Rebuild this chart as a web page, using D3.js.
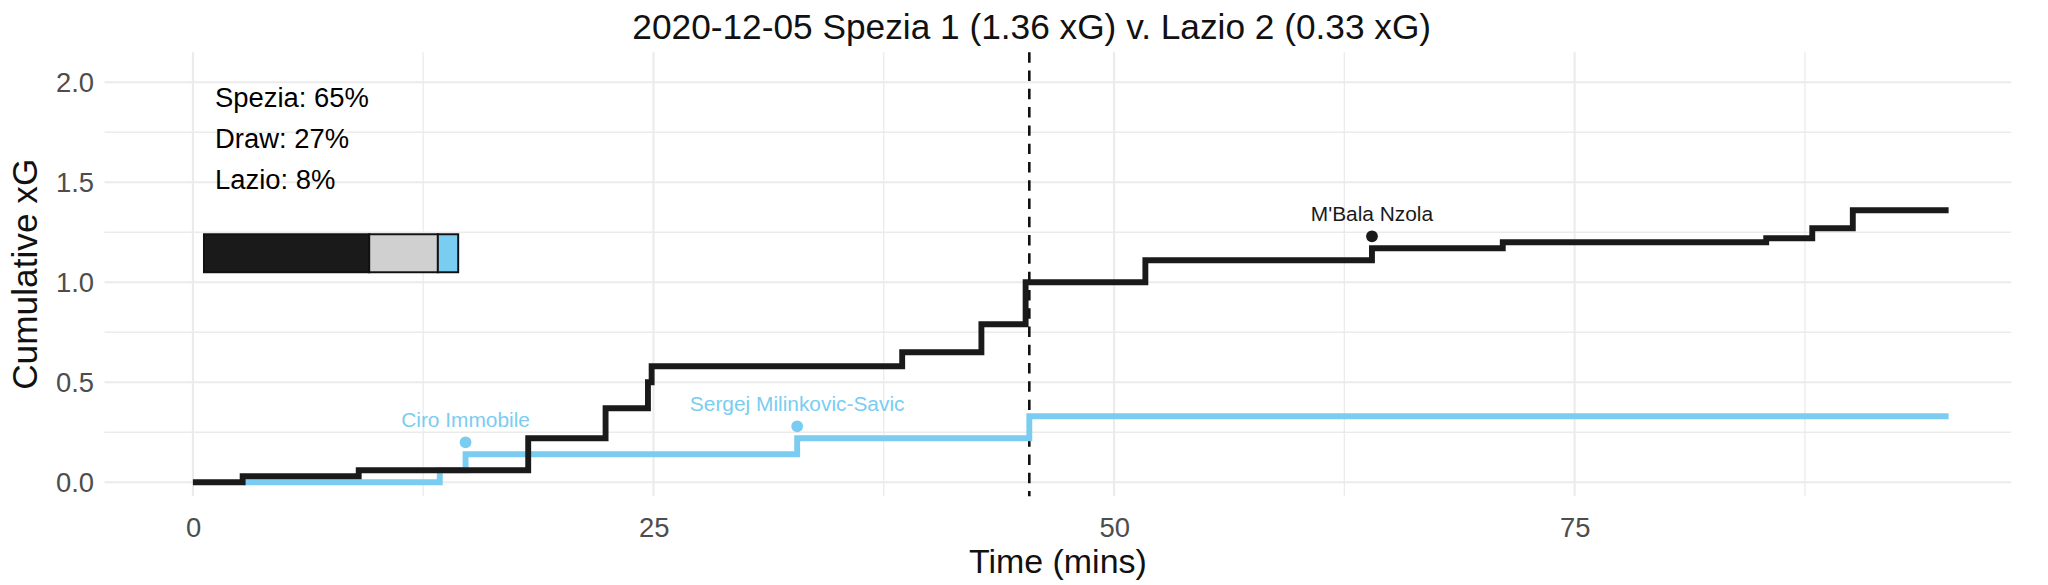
<!DOCTYPE html><html><head><meta charset="utf-8"><script src="https://cdn.jsdelivr.net/npm/d3@7"></script>
<style>body{margin:0;background:#fff}text{font-family:"Liberation Sans",Arial,sans-serif}</style></head><body><svg id="c" width="2048" height="585"></svg><script>
const spezia=[[0,0],[2.7,0.03],[9.0,0.06],[18.2,0.22],[22.4,0.37],[24.7,0.5],[24.9,0.58],[38.5,0.65],[42.8,0.79],[45.2,1.0],[51.7,1.11],[64.0,1.17],[71.1,1.20],[85.4,1.22],[87.9,1.27],[90.1,1.36],[95.3,1.36]];
const lazio=[[2.7,0],[13.4,0.06],[14.8,0.14],[32.8,0.22],[45.4,0.33],[95.3,0.33]];
const goals=[{t:14.8,y:0.2,name:"Ciro Immobile",team:"L"},{t:32.8,y:0.28,name:"Sergej Milinkovic-Savic",team:"L"},{t:64.0,y:1.23,name:"M'Bala Nzola",team:"S"}];
const probs=[{label:"Spezia",p:65},{label:"Draw",p:27},{label:"Lazio",p:8}];
const xTicks=[0,25,50,75], yTicks=[0,0.5,1,1.5,2];
const cS="#1a1a1a",cL="#7acdf0",cD="#d0d0d0";
const svg=d3.select("#c").append("g").attr("transform","scale(1.306)");
const x=d3.scaleLinear().domain([-4.8,98.7]).range([80,1540]);
const y=d3.scaleLinear().domain([-0.07,2.15]).range([380,40]);
const g=svg.append("g");
d3.range(-0,100,12.5).forEach(v=>{if(x(v)<=1540)g.append("line").attr("x1",x(v)).attr("x2",x(v)).attr("y1",40).attr("y2",380).attr("stroke","#ebebeb").attr("stroke-width",v%25?1:1.6);});
d3.range(0,2.01,0.25).forEach(v=>g.append("line").attr("x1",80).attr("x2",1540).attr("y1",y(v)).attr("y2",y(v)).attr("stroke","#ebebeb").attr("stroke-width",v%0.5?1:1.6));
const ax=svg.append("g").attr("transform","translate(0,380)").call(d3.axisBottom(x).tickValues(xTicks).tickSize(0).tickPadding(16));
const ay=svg.append("g").attr("transform","translate(80,0)").call(d3.axisLeft(y).tickValues(yTicks).tickFormat(d3.format(".1f")).tickSize(0).tickPadding(8));
[ax,ay].forEach(a=>{a.select(".domain").remove();a.selectAll("text").attr("font-size",21).attr("fill","#4d4d4d").attr("font-family","Liberation Sans, Arial");});
svg.append("line").attr("x1",x(45.4)).attr("x2",x(45.4)).attr("y1",40).attr("y2",380).attr("stroke","#111").attr("stroke-width",2).attr("stroke-dasharray","8,6");
const line=d3.line().x(d=>x(d[0])).y(d=>y(d[1])).curve(d3.curveStepAfter);
svg.append("path").attr("d",line(lazio)).attr("fill","none").attr("stroke",cL).attr("stroke-width",4.5);
svg.append("path").attr("d",line(spezia)).attr("fill","none").attr("stroke",cS).attr("stroke-width",4.5);
goals.forEach(d=>{const c=d.team=="S"?cS:cL;
svg.append("circle").attr("cx",x(d.t)).attr("cy",y(d.y)).attr("r",4.5).attr("fill",c);
svg.append("text").attr("x",x(d.t)).attr("y",y(d.y)-12).attr("text-anchor","middle").attr("font-size",16).attr("fill",c).text(d.name);});
probs.forEach((d,i)=>svg.append("text").attr("x",x(1.2)).attr("y",y(1.93-i*0.205)+8).attr("font-size",21).attr("fill","#000").text(`${d.label}: ${d.p}%`));
const bx=d3.scaleLinear().domain([0,100]).range([x(0.6),x(14.4)]);
let acc=0;[cS,cD,cL].forEach((c,i)=>{svg.append("rect").attr("x",bx(acc)).attr("width",bx(acc+probs[i].p)-bx(acc)).attr("y",y(1.24)).attr("height",y(1.05)-y(1.24)).attr("fill",c).attr("stroke","#111").attr("stroke-width",1.5);acc+=probs[i].p;});
svg.append("text").attr("x",790).attr("y",30).attr("text-anchor","middle").attr("font-size",27).attr("fill","#111").text("2020-12-05 Spezia 1 (1.36 xG) v. Lazio 2 (0.33 xG)");
svg.append("text").attr("x",810).attr("y",439).attr("text-anchor","middle").attr("font-size",26).attr("fill","#111").text("Time (mins)");
svg.append("text").attr("transform","translate(28,210) rotate(-90)").attr("text-anchor","middle").attr("font-size",27).attr("fill","#111").text("Cumulative xG");
</script></body></html>
